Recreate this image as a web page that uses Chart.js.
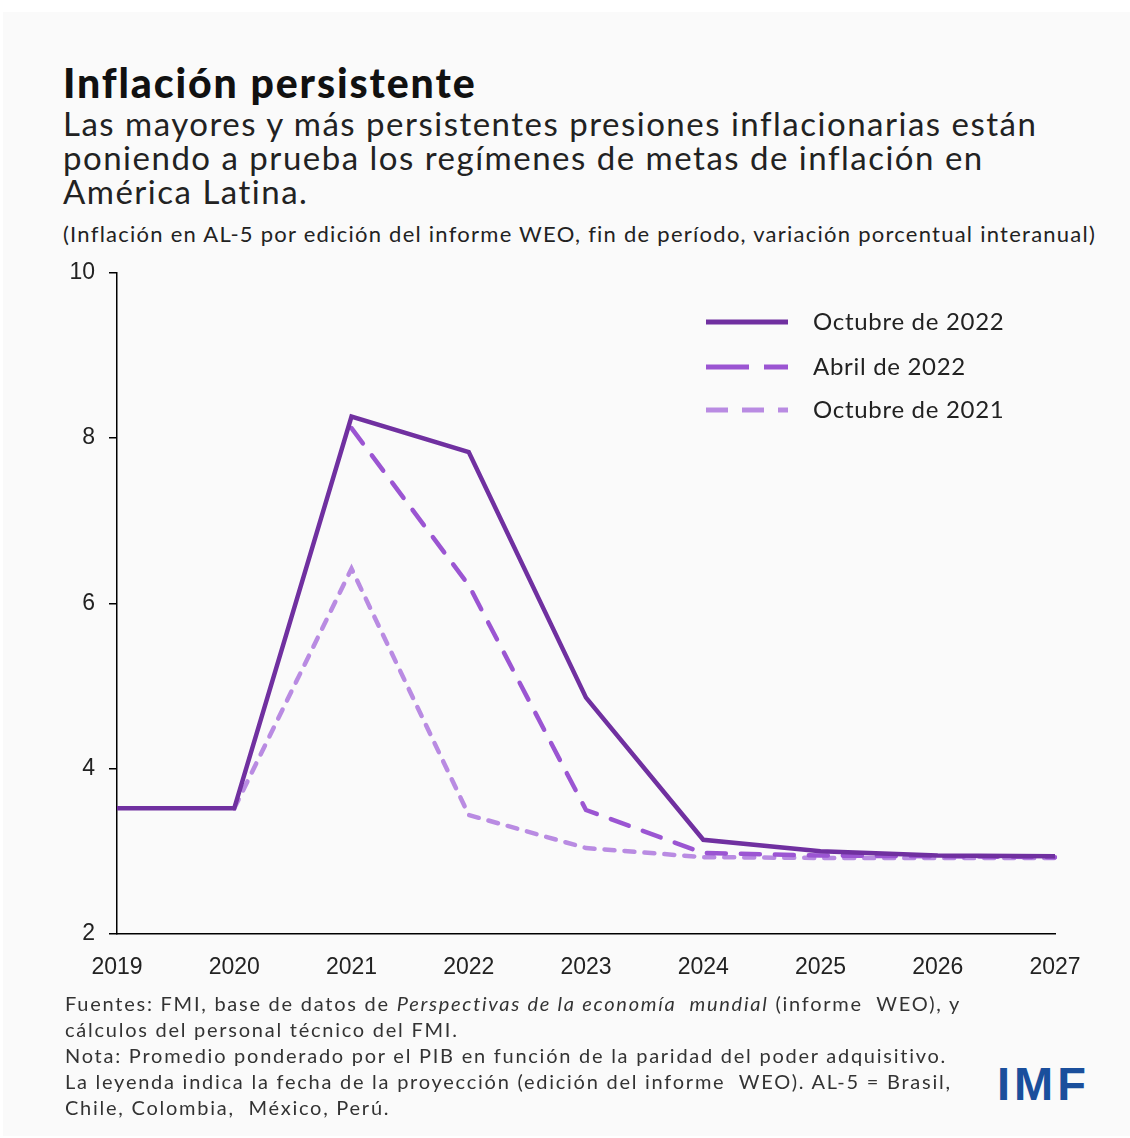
<!DOCTYPE html>
<html>
<head>
<meta charset="utf-8">
<script src="https://cdn.jsdelivr.net/npm/chart.js@4.4.0/dist/chart.umd.min.js"></script>
<style>
  html, body { margin:0; padding:0; background:#ffffff; }
  body { width:1130px; height:1138px; position:relative; overflow:hidden; font-family: Lato, "Open Sans", sans-serif; }
  #panel { position:absolute; left:3px; top:12px; width:1127px; height:1124px; background:#fafafa; }
  #title { position:absolute; left:63px; top:58px; font-size:41px; font-weight:900; color:#111; letter-spacing:1.9px; white-space:nowrap; }
  #subtitle { position:absolute; left:63px; top:106px; font-size:33px; line-height:34px; color:#222; letter-spacing:1.5px; white-space:nowrap; }
  #note { position:absolute; left:63px; top:220px; font-size:22px; color:#222; letter-spacing:1.25px; white-space:nowrap; }
  #footer { position:absolute; left:65px; top:990px; font-size:20px; line-height:26px; color:#333; letter-spacing:1.75px; white-space:nowrap; }
  #logo { position:absolute; left:997px; top:1056px; font-size:47px; font-weight:900; color:#1a4f9c; font-family: "Liberation Sans", Arial, sans-serif; letter-spacing:4px; }
  #wrap { position:absolute; left:0; top:245px; width:1130px; height:750px; }
</style>
</head>
<body>
<div id="panel"></div>
<div id="title">Inflación persistente</div>
<div id="subtitle">Las mayores y más persistentes presiones inflacionarias están<br>poniendo a prueba los regímenes de metas de inflación en<br>América Latina.</div>
<div id="note">(Inflación en AL-5 por edición del informe WEO, fin de período, variación porcentual interanual)</div>
<div id="wrap"><canvas id="c"></canvas></div>
<div id="footer">Fuentes: FMI, base de datos de <i>Perspectivas de la economía&nbsp; mundial</i> (informe&nbsp; WEO), y<br>cálculos del personal técnico del FMI.<br>Nota: Promedio ponderado por el PIB en función de la paridad del poder adquisitivo.<br>La leyenda indica la fecha de la proyección (edición del informe&nbsp; WEO). AL-5 = Brasil,<br>Chile, Colombia,&nbsp; México, Perú.</div>
<div id="logo">IMF</div>
<script>
const years = ["2019","2020","2021","2022","2023","2024","2025","2026","2027"];
const seriesNames = ["Octubre de 2022","Abril de 2022","Octubre de 2021"];
const oct2022 = [3.52, 3.52, 8.26, 7.83, 4.86, 3.14, 3.00, 2.95, 2.94];
const apr2022 = [null, null, 8.12, 6.22, 3.50, 2.98, 2.95, 2.94, 2.93];
const oct2021 = [null, 3.52, 6.42, 3.44, 3.04, 2.93, 2.92, 2.92, 2.92];
const yTicks = [2, 4, 6, 8, 10];

const colors = ["#7030a0", "#9b55d2", "#b98be2"];
const dashes = [[], [19, 15], [10, 10]];
const legendDashes = [[], [43, 15], [22, 14]];

const legendPlugin = {
  id: 'customLegend',
  afterDraw(chart) {
    const ctx = chart.ctx;
    const x0 = 706, x1 = 788, tx = 813;
    const ys = [77, 122, 165];
    ctx.save();
    chart.data.datasets.forEach((ds, i) => {
      ctx.beginPath();
      ctx.strokeStyle = ds.borderColor;
      ctx.lineWidth = 5;
      ctx.lineCap = 'butt';
      ctx.setLineDash(legendDashes[i]);
      ctx.moveTo(x0, ys[i]);
      ctx.lineTo(x1, ys[i]);
      ctx.stroke();
      ctx.setLineDash([]);
      ctx.fillStyle = '#222';
      ctx.font = '24px Lato, "Open Sans", sans-serif';
      if ('letterSpacing' in ctx) ctx.letterSpacing = '0.7px';
      ctx.textBaseline = 'middle';
      ctx.fillText(ds.label, tx, ys[i]);
    });
    ctx.restore();
  }
};

new Chart(document.getElementById('c'), {
  type: 'line',
  data: {
    labels: years,
    datasets: [
      { label: seriesNames[0], data: oct2022, borderColor: colors[0], borderWidth: 4.5, borderDash: dashes[0], pointRadius: 0, tension: 0, fill: false },
      { label: seriesNames[1], data: apr2022, borderColor: colors[1], borderWidth: 4.5, borderDash: dashes[1], borderCapStyle: 'round', pointRadius: 0, tension: 0, fill: false },
      { label: seriesNames[2], data: oct2021, borderColor: colors[2], borderWidth: 4.5, borderDash: dashes[2], borderCapStyle: 'round', pointRadius: 0, tension: 0, fill: false }
    ]
  },
  options: {
    responsive: true,
    maintainAspectRatio: false,
    animation: false,
    layout: { padding: { left: 0, right: 75, top: 27, bottom: 0 } },
    plugins: { legend: { display: false }, tooltip: { enabled: false } },
    scales: {
      x: {
        type: 'category',
        offset: false,
        grid: { display: false },
        border: { display: true, color: '#000', width: 1.5 },
        ticks: { color: '#222', padding: 12, maxRotation: 0, autoSkip: false, font: { family: '"Liberation Sans Narrow", "Liberation Sans", sans-serif', size: 23 } },
        afterFit(scale) { scale.height = 61; }
      },
      y: {
        min: 2, max: 10,
        afterBuildTicks(scale) { scale.ticks = yTicks.map(v => ({ value: v })); },
        grid: { display: true, drawOnChartArea: false, drawTicks: true, tickLength: 8, color: '#000', lineWidth: 1.5 },
        border: { display: true, color: '#000', width: 1.5 },
        ticks: { color: '#222', padding: 14, font: { family: '"Liberation Sans Narrow", "Liberation Sans", sans-serif', size: 23 } },
        afterFit(scale) { scale.width = 117; }
      }
    }
  },
  plugins: [legendPlugin]
});
</script>
</body>
</html>
